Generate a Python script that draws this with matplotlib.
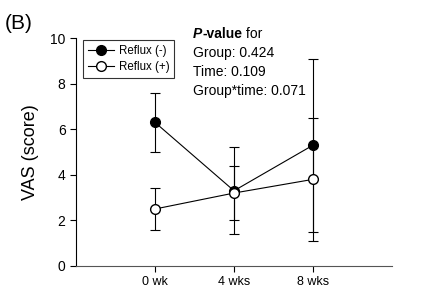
import matplotlib.pyplot as plt
from matplotlib.lines import Line2D

plt.rcParams['font.family'] = ['Liberation Sans', 'DejaVu Sans']

# dati
tempi = ["0 wk", "4 wks", "8 wks"]
reflux_neg = [6.3, 3.3, 5.3]
reflux_neg_err = [1.3, 1.9, 3.8]
reflux_pos = [2.5, 3.2, 3.8]
reflux_pos_err = [0.9, 1.2, 2.7]

fig = plt.figure(figsize=(4.22, 2.88), dpi=100)
ax = fig.add_axes([0.180, 0.0764, 0.749, 0.7916])

x = list(range(len(tempi)))
ax.errorbar(x, reflux_neg, yerr=reflux_neg_err, color='black', linewidth=0.8,
            marker='o', markersize=7, markerfacecolor='black', markeredgecolor='black',
            elinewidth=0.8, capsize=3.5, capthick=0.8, zorder=3)
ax.errorbar(x, reflux_pos, yerr=reflux_pos_err, color='black', linewidth=0.8,
            marker='o', markersize=7, markerfacecolor='white', markeredgecolor='black',
            elinewidth=0.8, capsize=3.5, capthick=0.8, zorder=4)

ax.set_xlim(-1, 3)
ax.set_ylim(0, 10)
ax.set_xticks(x)
ax.set_xticklabels(tempi, fontsize=9)
ax.set_yticks([0, 2, 4, 6, 8, 10])
ax.tick_params(axis='y', labelsize=10, direction='out', length=4, width=0.8)
ax.tick_params(axis='x', direction='out', length=4, width=0.8, pad=3)
ax.spines['top'].set_visible(False)
ax.spines['right'].set_visible(False)
ax.spines['left'].set_linewidth(0.8)
ax.spines['bottom'].set_linewidth(0.8)
ax.spines['bottom'].set_color('#555555')
ax.set_ylabel("VAS (score)", fontsize=13, labelpad=8)

# legenda senza barre d'errore
handles = [
    Line2D([], [], color='black', linewidth=0.8, marker='o', markersize=7,
           markerfacecolor='black', markeredgecolor='black'),
    Line2D([], [], color='black', linewidth=0.8, marker='o', markersize=7,
           markerfacecolor='white', markeredgecolor='black'),
]
leg = ax.legend(handles, ["Reflux (-)", "Reflux (+)"], loc='upper left',
                bbox_to_anchor=(0.022, 0.99), borderaxespad=0, fontsize=8.3,
                frameon=True, fancybox=False, edgecolor='black', handlelength=2.3,
                borderpad=0.4, labelspacing=0.35, handletextpad=0.4)
leg.get_frame().set_linewidth(0.8)

# testo con i p-value (P corsivo grassetto, "-value" grassetto, "for" normale)
x0, y0 = 0.457, 0.882
fig.canvas.draw()
renderer = fig.canvas.get_renderer()
pezzi = [("P", dict(weight='bold', style='italic')),
         ("-value", dict(weight='bold')),
         (" for", dict())]
xc = x0
for s, kw in pezzi:
    t = fig.text(xc, y0, s, fontsize=10, va='center', **kw)
    bb = t.get_window_extent(renderer)
    xc += bb.width / fig.bbox.width
fig.text(x0, 0.816, "Group: 0.424", fontsize=10, va='center')
fig.text(x0, 0.750, "Time: 0.109", fontsize=10, va='center')
fig.text(x0, 0.684, "Group*time: 0.071", fontsize=10, va='center')

fig.text(0.012, 0.92, "(B)", fontsize=15, va='center')

plt.savefig("out.png", dpi=100)
